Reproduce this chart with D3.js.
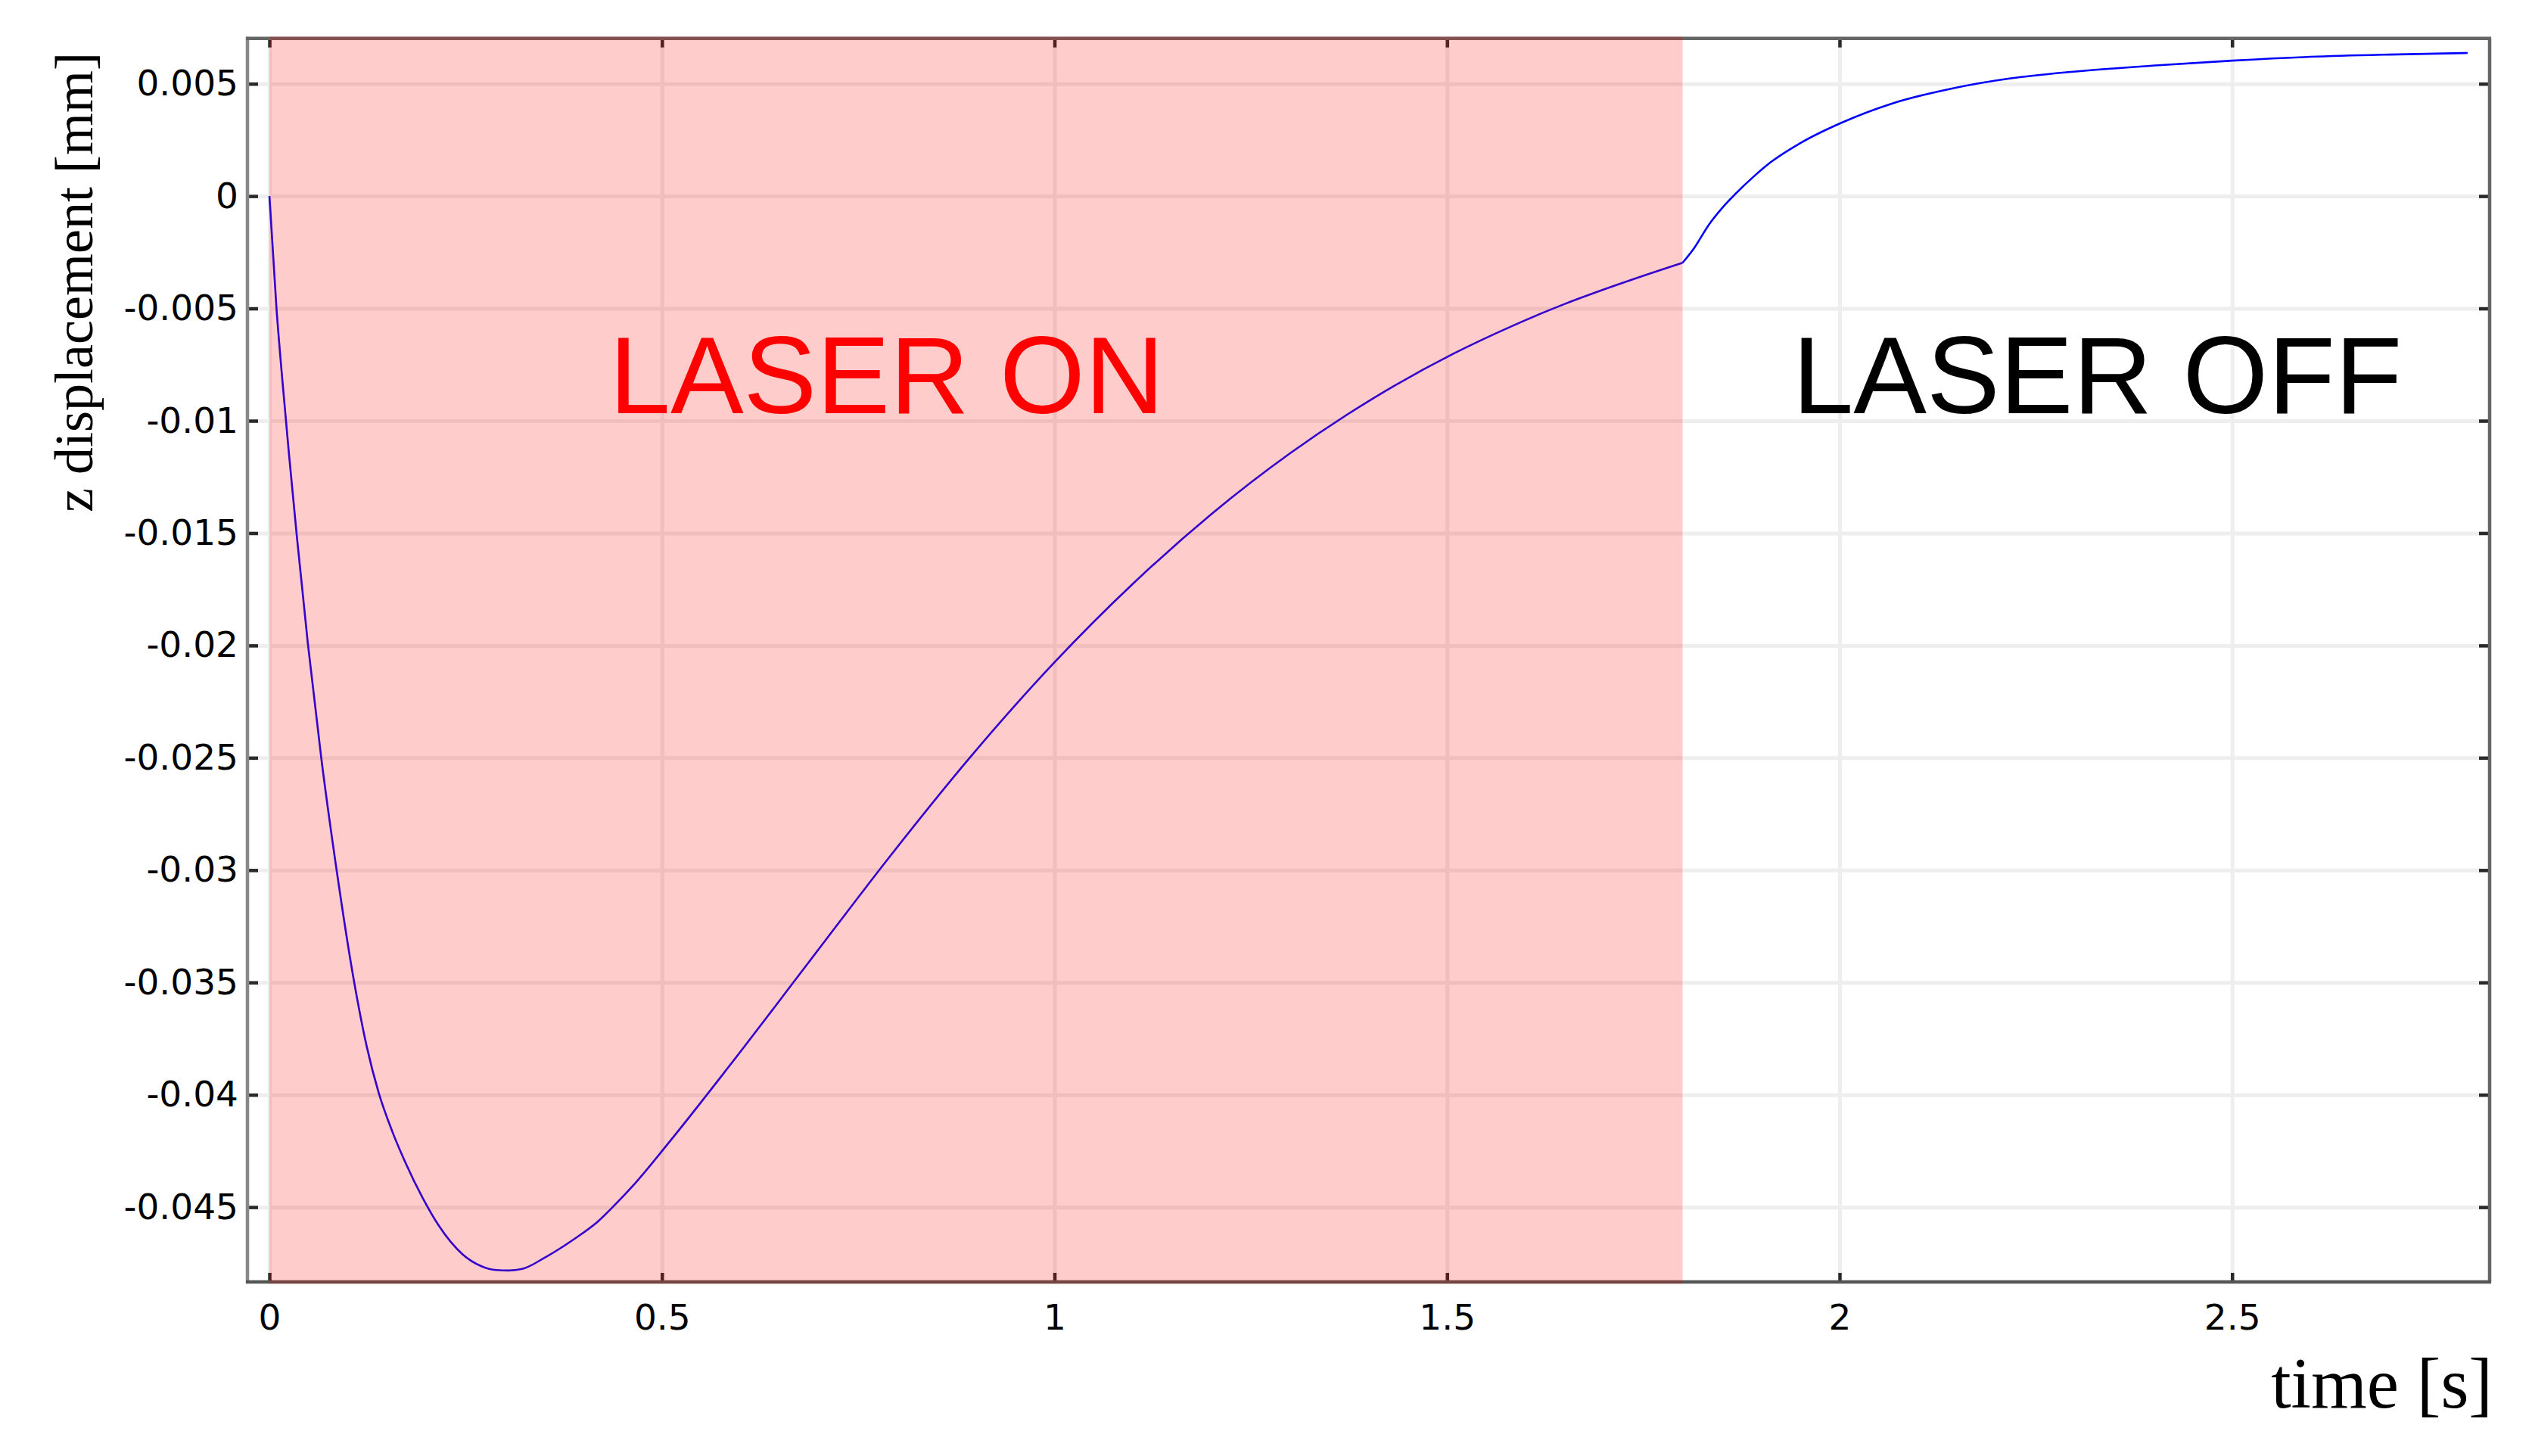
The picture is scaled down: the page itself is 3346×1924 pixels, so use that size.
<!DOCTYPE html>
<html>
<head>
<meta charset="utf-8">
<script src="https://cdnjs.cloudflare.com/ajax/libs/d3/7.8.5/d3.min.js"></script>
<style>
  body { margin: 0; background: #fff; }
  svg { display: block; }
</style>
</head>
<body>
<svg id="chart" width="3346" height="1924"></svg>
<script>
// time [s] and z displacement [mm] while the laser is on
var onTimeS = [0.000, 0.009, 0.016, 0.025, 0.035, 0.049, 0.066, 0.086, 0.107, 0.124,
  0.139, 0.156, 0.173, 0.195, 0.216, 0.246, 0.270, 0.289, 0.305, 0.322,
  0.352, 0.389, 0.418, 0.440, 0.463, 0.514, 0.584, 0.687, 0.789, 0.892,
  1.000, 1.100, 1.200, 1.300, 1.406, 1.509, 1.585, 1.650, 1.714, 1.778, 1.800];
var onZDispMm = [0.0000, -0.0050, -0.00801, -0.01152, -0.01517, -0.01993, -0.0250, -0.0301, -0.0348, -0.03786,
  -0.03989, -0.04159, -0.04300, -0.04458, -0.04584, -0.04710, -0.04763, -0.04780, -0.04782, -0.04775,
  -0.04722, -0.04640, -0.04565, -0.04490, -0.04405, -0.04190, -0.03880, -0.03410, -0.02945, -0.02500,
  -0.02075, -0.01725, -0.01415, -0.01145, -0.00900, -0.00700, -0.00575, -0.00480, -0.00398, -0.00322, -0.00297];

// after the laser is switched off
var offTimeS = [1.800, 1.815, 1.834, 1.850, 1.866, 1.890, 1.912, 1.950, 2.004, 2.065,
  2.142, 2.218, 2.295, 2.410, 2.500, 2.600, 2.700, 2.800];
var offZDispMm = [-0.00297, -0.00230, -0.00125, -0.00055, 0.00005, 0.00085, 0.00150, 0.00236, 0.00329, 0.00410,
  0.00478, 0.00524, 0.00553, 0.00583, 0.00603, 0.00620, 0.00630, 0.00637];

var xTicks = [0, 0.5, 1, 1.5, 2, 2.5];
var xTickLabels = ["0", "0.5", "1", "1.5", "2", "2.5"];
var yTicks = [0.005, 0, -0.005, -0.01, -0.015, -0.02, -0.025, -0.03, -0.035, -0.04, -0.045];
var yTickLabels = ["0.005", "0", "-0.005", "-0.01", "-0.015", "-0.02", "-0.025", "-0.03", "-0.035", "-0.04", "-0.045"];

// laser phase (s)
var laserOn = [0, 1.8];
var phaseLabels = ["LASER ON", "LASER OFF"];

var plotL = 327, plotR = 3290, plotT = 50.7, plotB = 1694;
var svg = d3.select("#chart");

var x = d3.scaleLinear().domain([-0.028, 2.828]).range([plotL, plotR]);
var y = d3.scaleLinear().domain([-0.04833, 0.00702]).range([plotB, plotT]);

var tickFont = "'DejaVu Sans', Verdana, sans-serif";

// grid
var grid = svg.append("g").attr("class", "grid");
grid.append("g")
  .attr("transform", "translate(0," + plotB + ")")
  .call(d3.axisBottom(x).tickValues(xTicks).tickSize(-(plotB - plotT)).tickFormat(""));
grid.append("g")
  .attr("transform", "translate(" + plotL + ",0)")
  .call(d3.axisLeft(y).tickValues(yTicks).tickSize(-(plotR - plotL)).tickFormat(""));
grid.selectAll(".domain").remove();
grid.selectAll("line").attr("stroke", "#eeeeee").attr("stroke-width", 5);

// curve, two pieces so the kink at switch-off stays sharp
var line = d3.line()
  .x(function (d) { return x(d[0]); })
  .y(function (d) { return y(d[1]); })
  .curve(d3.curveMonotoneX);
var pieces = [
  onTimeS.map(function (t, i) { return [t, onZDispMm[i]]; }),
  offTimeS.map(function (t, i) { return [t, offZDispMm[i]]; })
];
svg.selectAll("path.curve")
  .data(pieces)
  .enter().append("path")
  .attr("class", "curve")
  .attr("d", line)
  .attr("fill", "none")
  .attr("stroke", "#0000ff")
  .attr("stroke-width", 2.6)
  .attr("stroke-linejoin", "round");

// axes with inward ticks
var xAxisB = svg.append("g")
  .attr("transform", "translate(0," + plotB + ")")
  .call(d3.axisBottom(x).tickValues(xTicks).tickSize(-12).tickPadding(30)
    .tickFormat(function (d, i) { return xTickLabels[i]; }));
var xAxisT = svg.append("g")
  .attr("transform", "translate(0," + plotT + ")")
  .call(d3.axisTop(x).tickValues(xTicks).tickSize(-12).tickFormat(""));
var yAxisL = svg.append("g")
  .attr("transform", "translate(" + plotL + ",0)")
  .call(d3.axisLeft(y).tickValues(yTicks).tickSize(-14).tickPadding(12)
    .tickFormat(function (d, i) { return yTickLabels[i]; }));
var yAxisR = svg.append("g")
  .attr("transform", "translate(" + plotR + ",0)")
  .call(d3.axisRight(y).tickValues(yTicks).tickSize(-14).tickFormat(""));

[xAxisB, xAxisT, yAxisL, yAxisR].forEach(function (a) {
  a.selectAll(".domain").remove();
  a.selectAll(".tick line").attr("stroke", "#2a2a2a").attr("stroke-width", 4.5);
  a.selectAll("text")
    .attr("fill", "#000")
    .style("font-family", tickFont)
    .style("font-size", "47px");
});

// frame
svg.append("line").attr("x1", plotL).attr("x2", plotL).attr("y1", plotT - 2).attr("y2", plotB + 2)
  .attr("stroke", "#888").attr("stroke-width", 4.5);
svg.append("line").attr("x1", plotL - 2).attr("x2", plotR + 2).attr("y1", plotT).attr("y2", plotT)
  .attr("stroke", "#666").attr("stroke-width", 4.5);
svg.append("line").attr("x1", plotR).attr("x2", plotR).attr("y1", plotT).attr("y2", plotB)
  .attr("stroke", "#666").attr("stroke-width", 4.5);
svg.append("line").attr("x1", plotL - 2).attr("x2", plotR + 2).attr("y1", plotB).attr("y2", plotB)
  .attr("stroke", "#555").attr("stroke-width", 4.5);

// laser-on shading drawn over everything in the plot
svg.append("rect")
  .attr("x", x(laserOn[0]))
  .attr("y", plotT - 2.3)
  .attr("width", x(laserOn[1]) - x(laserOn[0]))
  .attr("height", plotB - plotT + 4.6)
  .attr("fill", "rgb(255,0,0)")
  .attr("fill-opacity", 0.2);

// phase labels
svg.append("text")
  .attr("x", x(0.433)).attr("y", y(-0.00967))
  .attr("fill", "#ff0000")
  .style("font-family", "'Liberation Sans', Arial, sans-serif")
  .style("font-size", "145px")
  .text(phaseLabels[0]);
svg.append("text")
  .attr("x", x(1.940)).attr("y", y(-0.00967))
  .attr("fill", "#000")
  .style("font-family", "'Liberation Sans', Arial, sans-serif")
  .style("font-size", "145px")
  .text(phaseLabels[1]);

// axis titles
svg.append("text")
  .attr("transform", "translate(122,373) rotate(-90)")
  .attr("text-anchor", "middle")
  .style("font-family", "'Liberation Serif', 'Times New Roman', serif")
  .style("font-size", "72px")
  .text("z displacement [mm]");
svg.append("text")
  .attr("x", 3294).attr("y", 1860)
  .attr("text-anchor", "end")
  .style("font-family", "'Liberation Serif', 'Times New Roman', serif")
  .style("font-size", "95px")
  .text("time [s]");
</script>
</body>
</html>
